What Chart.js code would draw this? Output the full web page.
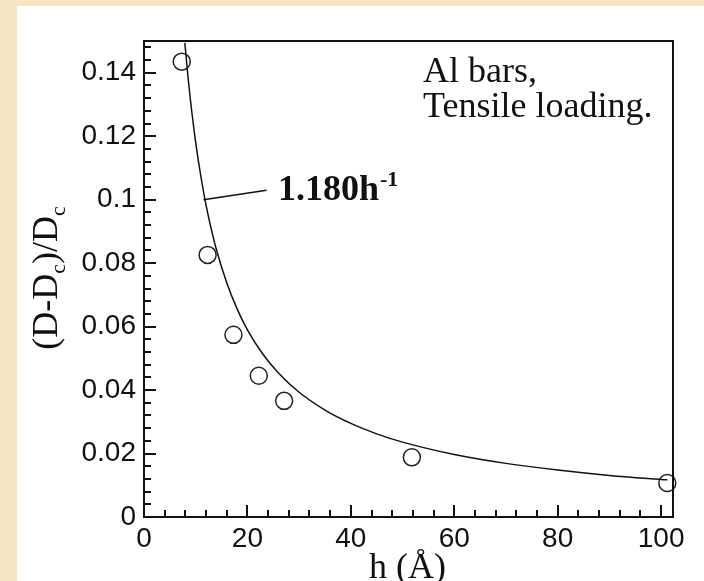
<!DOCTYPE html>
<html><head><meta charset="utf-8">
<script src="https://cdn.jsdelivr.net/npm/chart.js@4.4.0/dist/chart.umd.min.js"></script>
<style>
html,body{margin:0;padding:0;width:704px;height:581px;overflow:hidden;background:#f8e6c3;}
#wrap{position:absolute;left:17px;top:6px;width:687px;height:575px;background:#fff;}
canvas{display:block;}
</style></head><body>
<div id="wrap"><canvas id="c" width="687" height="575"></canvas></div>
<script>
// measured points
const hValues = [7.3, 12.3, 17.3, 22.2, 27.1, 51.8, 101.2];
const dValues = [0.1435, 0.0826, 0.0574, 0.0445, 0.0366, 0.0188, 0.0107];
// fitted curve 1.180 h^-1
const fitH = [7.9, 8.5, 9, 10, 11, 12, 13, 14, 16, 18, 20, 23, 26, 30, 35, 40, 45, 50, 60, 70, 80, 90, 101.2];
const fitD = [0.1494, 0.1388, 0.1311, 0.1180, 0.1073, 0.0983, 0.0908, 0.0843, 0.0738, 0.0656, 0.0590, 0.0513, 0.0454, 0.0393, 0.0337, 0.0295, 0.0262, 0.0236, 0.0197, 0.0169, 0.0148, 0.0131, 0.0117];
// annotation pointer line
const pointerH = [11.5, 23.7];
const pointerD = [0.100, 0.103];
// ticks
const xTickLabels = [0, 20, 40, 60, 80, 100];
const yTickLabels = [0, 0.02, 0.04, 0.06, 0.08, 0.1, 0.12, 0.14];
const xMinorStep = 4, yMinorStep = 0.004;
const xMax = 102.3, yMax = 0.15;

const pts = (xs, ys) => xs.map((x, i) => ({x, y: ys[i]}));

const decor = {
  id: 'decor',
  afterDraw(chart) {
    const ctx = chart.ctx, a = chart.chartArea;
    const xs = chart.scales.x, ys = chart.scales.y;
    ctx.save();
    ctx.strokeStyle = '#111'; ctx.lineWidth = 2;
    ctx.beginPath();
    ctx.moveTo(a.left, a.top); ctx.lineTo(a.right, a.top); ctx.lineTo(a.right, a.bottom);
    ctx.stroke();
    // y ticks
    ctx.lineWidth = 2;
    for (let i = 0; i * yMinorStep <= yMax + 1e-9; i++) {
      const v = i * yMinorStep;
      const p = Math.round(ys.getPixelForValue(v)) ;
      const len = (i % 5 === 0) ? 12 : 7;
      ctx.beginPath(); ctx.moveTo(a.left, p); ctx.lineTo(a.left + len, p); ctx.stroke();
    }
    for (let i = 0; i * xMinorStep <= xMax + 1e-9; i++) {
      const v = i * xMinorStep;
      const p = Math.round(xs.getPixelForValue(v));
      const len = (i % 5 === 0) ? 12 : 7;
      ctx.beginPath(); ctx.moveTo(p, a.bottom); ctx.lineTo(p, a.bottom - len); ctx.stroke();
    }
    ctx.fillStyle = '#111';
    // texts
    ctx.textBaseline = 'alphabetic';
    ctx.textAlign = 'left';
    ctx.font = '36px "Liberation Serif"';
    ctx.fillText('Al bars,', 406, 76);
    ctx.fillText('Tensile loading.', 406, 111);
    // annotation
    ctx.font = 'bold 36px "Liberation Serif"';
    ctx.fillText('1.180h', 261, 194);
    const w = ctx.measureText('1.180h').width;
    ctx.font = 'bold 22px "Liberation Serif"';
    ctx.fillText('-1', 261 + w + 1, 180);
    // x title
    ctx.font = '36px "Liberation Serif"';
    ctx.textAlign = 'center';
    ctx.fillText('h (\u00C5)', (a.left + a.right) / 2 - 1, 572);
    // y title
    const parts = [['(D-D', 0], ['c', 1], [')/D', 0], ['c', 1]];
    let total = 0;
    const widths = parts.map(([t, s]) => {
      ctx.font = s ? '22px "Liberation Serif"' : '36px "Liberation Serif"';
      const m = ctx.measureText(t).width; total += m; return m;
    });
    ctx.translate(40, 272);
    ctx.rotate(-Math.PI / 2);
    ctx.textAlign = 'left';
    let x = -total / 2;
    parts.forEach(([t, s], i) => {
      ctx.font = s ? '22px "Liberation Serif"' : '36px "Liberation Serif"';
      ctx.fillText(t, x, s ? 8 : 0);
      x += widths[i];
    });
    ctx.restore();
  }
};

new Chart(document.getElementById('c'), {
  type: 'line',
  data: {
    datasets: [
      {data: pts(hValues, dValues), showLine: false, pointStyle: 'circle', pointRadius: 8.5,
       pointBorderWidth: 1.5, pointBorderColor: '#222', pointBackgroundColor: 'rgba(0,0,0,0)', clip: false, order: 0},
      {data: pts(fitH, fitD), showLine: true, borderColor: '#111', borderWidth: 1.5, pointRadius: 0,
       cubicInterpolationMode: 'monotone', fill: false, order: 1},
      {data: pts(pointerH, pointerD), showLine: true, borderColor: '#111', borderWidth: 1.5, pointRadius: 0, fill: false, order: 1}
    ]
  },
  options: {
    responsive: false, animation: false, events: [],
    layout: {padding: {left: 0, top: 35, right: 31, bottom: 0}},
    plugins: {legend: {display: false}, tooltip: {enabled: false}},
    scales: {
      x: {type: 'linear', min: 0, max: xMax,
        afterBuildTicks: s => { s.ticks = xTickLabels.map(v => ({value: v})); },
        afterFit: s => { s.height = 64; },
        grid: {display: true, drawOnChartArea: false, drawTicks: false, color: 'rgba(0,0,0,0)'},
        border: {display: true, color: '#111', width: 2},
        ticks: {padding: 5, color: '#111', maxRotation: 0, autoSkip: false,
          font: {family: '"Liberation Sans"', size: 28}, callback: v => String(v)}
      },
      y: {type: 'linear', min: 0, max: yMax,
        afterBuildTicks: s => { s.ticks = yTickLabels.map(v => ({value: v})); },
        afterFit: s => { s.width = 127; },
        grid: {display: true, drawOnChartArea: false, drawTicks: false, color: 'rgba(0,0,0,0)'},
        border: {display: true, color: '#111', width: 2},
        ticks: {padding: 8, color: '#111', autoSkip: false,
          font: {family: '"Liberation Sans"', size: 28}, callback: v => String(v)}
      }
    }
  },
  plugins: [decor]
});
</script>
</body></html>
